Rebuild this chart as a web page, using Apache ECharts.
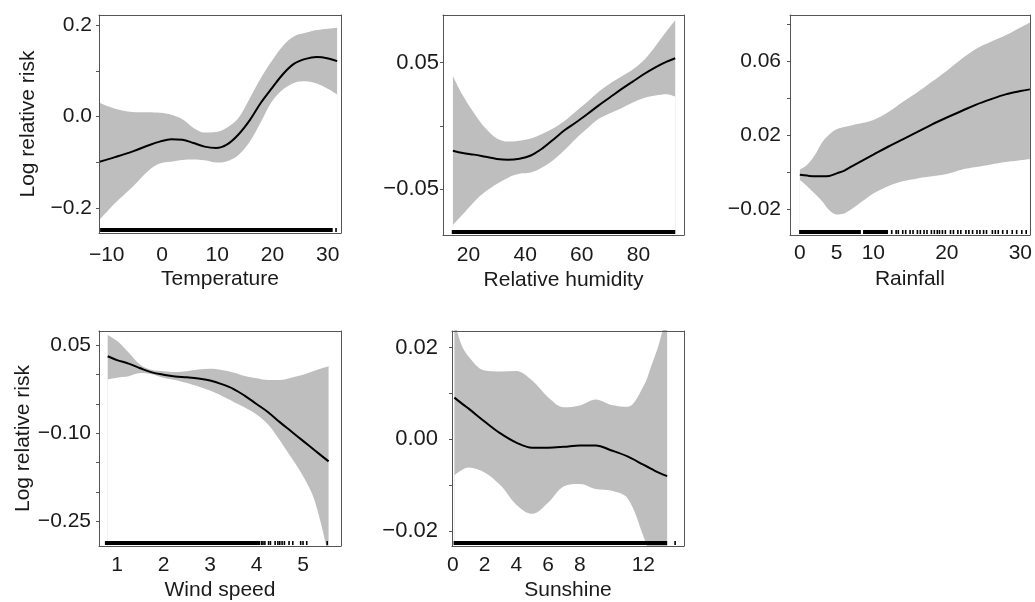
<!DOCTYPE html>
<html>
<head>
<meta charset="utf-8">
<script src="https://cdn.jsdelivr.net/npm/echarts@6/dist/echarts.min.js"></script>
<style>html,body{margin:0;padding:0;background:#fff}#c{width:1035px;height:602px}</style>
</head>
<body>
<div id="c"></div>
<script>
// ---------- Temperature ----------
const tempX     = [-11.3, -8.5, -5.4, -2.4, -0.4, 1.7, 3.7, 5.7, 7.7, 9.8, 11.8, 13.8, 15.9, 17.9, 19.9, 22.0, 24.0, 26.0, 28.0, 30.1, 31.7];
const tempFit   = [-0.099, -0.089, -0.077, -0.063, -0.055, -0.050, -0.051, -0.058, -0.066, -0.069, -0.061, -0.040, -0.008, 0.030, 0.062, 0.094, 0.116, 0.126, 0.130, 0.127, 0.121];
const tempUpper = [0.030, 0.017, 0.010, 0.009, 0.008, 0.004, -0.006, -0.025, -0.035, -0.034, -0.024, -0.004, 0.040, 0.084, 0.122, 0.156, 0.176, 0.183, 0.189, 0.192, 0.194];
const tempLower = [-0.226, -0.190, -0.155, -0.118, -0.103, -0.099, -0.095, -0.094, -0.096, -0.101, -0.098, -0.085, -0.055, -0.012, 0.033, 0.060, 0.074, 0.077, 0.072, 0.060, 0.048];
const tempRugRanges = [[-11.2, 30.9]];
const tempRugTicks  = [31.5];
const tempXLabels = [-10, 0, 10, 20, 30];
const tempYTicks  = [-0.2, -0.1, 0, 0.1, 0.2];
const tempYLabels = [-0.2, 0, 0.2];

// ---------- Relative humidity ----------
const humX     = [14.5, 18, 22, 26, 30, 34, 38, 42, 46, 50, 54, 58, 62, 66, 70, 74, 78, 82, 86, 90, 93];
const humFit   = [-0.0197, -0.0215, -0.0228, -0.0245, -0.0262, -0.0268, -0.0260, -0.0235, -0.0180, -0.0108, -0.0033, 0.0028, 0.0094, 0.0162, 0.0226, 0.0290, 0.0350, 0.0410, 0.0463, 0.0508, 0.0535];
const humUpper = [0.0395, 0.0240, 0.0100, -0.0020, -0.0100, -0.0125, -0.0118, -0.0100, -0.0065, -0.0020, 0.0040, 0.0115, 0.0190, 0.0270, 0.0335, 0.0390, 0.0445, 0.0520, 0.0630, 0.0750, 0.0835];
const humLower = [-0.0785, -0.0700, -0.0600, -0.0520, -0.0460, -0.0410, -0.0380, -0.0370, -0.0330, -0.0270, -0.0190, -0.0100, -0.0020, 0.0055, 0.0100, 0.0140, 0.0185, 0.0220, 0.0240, 0.0250, 0.0231];
const humRugRanges = [[14.1, 93.0]];
const humRugTicks  = [];
const humXLabels = [20, 40, 60, 80];
const humYTicks  = [-0.05, 0, 0.05];
const humYLabels = [-0.05, 0.05];

// ---------- Rainfall ----------
const rainX     = [0, 1, 2, 3, 4, 5, 6, 7, 8, 10, 12, 14, 16, 18, 20, 22, 24, 26, 28, 30, 31.3];
const rainFit   = [-0.0013, -0.0018, -0.0022, -0.0022, -0.0020, -0.0006, 0.0008, 0.0030, 0.0052, 0.0095, 0.0138, 0.0178, 0.0218, 0.0259, 0.0296, 0.0331, 0.0366, 0.0395, 0.0421, 0.0439, 0.0448];
const rainUpper = [0.0014, 0.0040, 0.0090, 0.0160, 0.0204, 0.0232, 0.0245, 0.0253, 0.0262, 0.0283, 0.0325, 0.0380, 0.0432, 0.0490, 0.0549, 0.0612, 0.0668, 0.0706, 0.0740, 0.0782, 0.0810];
const rainLower = [-0.0040, -0.0075, -0.0115, -0.0155, -0.0205, -0.0228, -0.0223, -0.0200, -0.0172, -0.0115, -0.0075, -0.0049, -0.0033, -0.0022, -0.0009, 0.0014, 0.0028, 0.0042, 0.0055, 0.0065, 0.0072];
const rainRugRanges = [[-0.1, 8.3], [8.6, 12.0]];
const rainRugTicks  = [12.5, 13.1, 13.4, 14.0, 14.4, 15.0, 15.4, 16.0, 16.4, 16.9, 17.3, 17.9, 18.3, 18.7, 19.0, 19.4, 19.8, 20.5, 20.9, 21.5, 21.9, 22.6, 23.0, 23.5, 24.1, 24.5, 25.0, 25.4, 26.2, 26.6, 27.0, 27.6, 28.2, 28.9, 29.5, 30.2, 30.8];
const rainXLabels = [0, 5, 10, 20, 30];
const rainYTicks  = [-0.02, 0, 0.02, 0.04, 0.06, 0.08];
const rainYLabels = [-0.02, 0.02, 0.06];

// ---------- Wind speed ----------
const windX     = [0.8, 1.0, 1.25, 1.5, 1.75, 2.0, 2.25, 2.5, 2.75, 3.0, 3.25, 3.5, 3.75, 4.0, 4.25, 4.5, 4.75, 5.0, 5.25, 5.55];
const windFit   = [0.0315, 0.025, 0.019, 0.011, 0.004, 0.000, -0.003, -0.0045, -0.0065, -0.010, -0.016, -0.024, -0.036, -0.050, -0.064, -0.081, -0.097, -0.113, -0.129, -0.148];
const windUpper = [0.068, 0.058, 0.038, 0.017, 0.008, 0.006, 0.0048, 0.006, 0.009, 0.010, 0.008, 0.004, -0.002, -0.006, -0.009, -0.009, -0.005, 0.000, 0.007, 0.0146];
const windLower = [-0.0077, -0.005, -0.0025, 0.003, 0.001, -0.005, -0.009, -0.014, -0.020, -0.027, -0.036, -0.046, -0.056, -0.068, -0.085, -0.112, -0.142, -0.173, -0.215, -0.310];
const windRugRanges = [[0.74, 4.08]];
const windRugTicks  = [4.11, 4.14, 4.18, 4.26, 4.30, 4.40, 4.46, 4.50, 4.55, 4.60, 4.70, 4.78, 4.95, 5.00, 5.08, 5.52];
const windXLabels = [1, 2, 3, 4, 5];
const windYTicks  = [-0.25, -0.20, -0.15, -0.10, -0.05, 0, 0.05];
const windYLabels = [-0.25, -0.10, 0.05];

// ---------- Sunshine ----------
const sunX     = [0.1, 0.5, 1, 2, 3, 4, 5, 6, 7, 8, 9, 10, 11, 12, 12.5, 13, 13.5];
const sunFit   = [0.0091, 0.0080, 0.0067, 0.0039, 0.0013, -0.0007, -0.0018, -0.0018, -0.0016, -0.0013, -0.0013, -0.0024, -0.0037, -0.0055, -0.0064, -0.0073, -0.0080];
const sunUpper = [0.026, 0.021, 0.0180, 0.0150, 0.0148, 0.0149, 0.0128, 0.0092, 0.0070, 0.0074, 0.0087, 0.0075, 0.0071, 0.0115, 0.0160, 0.0210, 0.0280];
const sunLower = [-0.0078, -0.0068, -0.0061, -0.0072, -0.0100, -0.0142, -0.0162, -0.0138, -0.0102, -0.0097, -0.0108, -0.0112, -0.0128, -0.0210, -0.0260, -0.0310, -0.0360];
const sunRugRanges = [[0.05, 13.5]];
const sunRugTicks  = [14.0];
const sunXLabels = [0, 2, 4, 6, 8, 12];
const sunYTicks  = [-0.02, -0.01, 0, 0.01, 0.02];
const sunYLabels = [-0.02, 0, 0.02];

// ---------- Layout (not data) ----------
const panels = [
  {x: tempX, fit: tempFit, hi: tempUpper, lo: tempLower, rr: tempRugRanges, rt: tempRugTicks,
   xl: tempXLabels, yt: tempYTicks, yl: tempYLabels, dec: 1, name: 'Temperature', yName: 'Log relative risk',
   grid: {left: 99, top: 15, width: 242, height: 218}, xMin: -11.4, xMax: 32.4, yMin: -0.255, yMax: 0.222,
   xMargin: 12, nameGap: 36, yMargin: 7, yFont: 21},
  {x: humX, fit: humFit, hi: humUpper, lo: humLower, rr: humRugRanges, rt: humRugTicks,
   xl: humXLabels, yt: humYTicks, yl: humYLabels, dec: 2, name: 'Relative humidity', yName: '',
   grid: {left: 443, top: 15, width: 241, height: 220}, xMin: 11.0, xMax: 96.1, yMin: -0.0864, yMax: 0.0877,
   xMargin: 10, nameGap: 35, yMargin: 4, yFont: 22},
  {x: rainX, fit: rainFit, hi: rainUpper, lo: rainLower, rr: rainRugRanges, rt: rainRugTicks,
   xl: rainXLabels, yt: rainYTicks, yl: rainYLabels, dec: 2, name: 'Rainfall', yName: '',
   grid: {left: 790, top: 15, width: 243, height: 220}, xMin: -1.34, xMax: 31.3, yMin: -0.0339, yMax: 0.085,
   xMargin: 8, nameGap: 34, yMargin: 9, yFont: 21},
  {x: windX, fit: windFit, hi: windUpper, lo: windLower, rr: windRugRanges, rt: windRugTicks,
   xl: windXLabels, yt: windYTicks, yl: windYLabels, dec: 2, name: 'Wind speed', yName: 'Log relative risk',
   grid: {left: 99, top: 331, width: 242, height: 218}, xMin: 0.613, xMax: 5.817, yMin: -0.2926, yMax: 0.0747,
   xMargin: 9, nameGap: 34, yMargin: 8, yFont: 21},
  {x: sunX, fit: sunFit, hi: sunUpper, lo: sunLower, rr: sunRugRanges, rt: sunRugTicks,
   xl: sunXLabels, yt: sunYTicks, yl: sunYLabels, dec: 2, name: 'Sunshine', yName: '',
   grid: {left: 452, top: 331, width: 232, height: 217}, xMin: -0.05, xMax: 14.56, yMin: -0.0232, yMax: 0.0236,
   xMargin: 9, nameGap: 34, yMargin: 14, yFont: 22}
];

const FONT = 'Liberation Sans, Arial, Helvetica, sans-serif';
const TXT = '#1a1a1a';
const FRAME = {show: true, onZero: false, lineStyle: {color: '#555', width: 1}};
const fmt = (v, d) => (v < -1e-12 ? '\u2212' : '') + Math.abs(v).toFixed(d);

function rugRender(params, api) {
  const s = api.value(0), e = api.value(1);
  const p0 = api.coord([s, api.value(2)]);
  const p1 = api.coord([e, api.value(2)]);
  const cs = params.coordSys;
  const bottom = cs.y + cs.height;
  let x = p0[0], w = p1[0] - p0[0];
  if (w < 1.6) { x = p0[0] - 0.8; w = 1.6; }
  return {type: 'rect', shape: {x: x, y: bottom - 5, width: w, height: 4}, style: {fill: '#000'}};
}

const N = panels.length;
const grid = [], xAxis = [], yAxis = [], series = [];
panels.forEach((p, i) => {
  grid.push(Object.assign({show: false}, p.grid));
  xAxis[i] = {
    type: 'value', gridIndex: i, min: p.xMin, max: p.xMax, position: 'bottom', z: 10,
    name: p.name, nameLocation: 'middle', nameGap: p.nameGap,
    nameTextStyle: {fontFamily: FONT, fontSize: 21, color: TXT},
    axisLine: FRAME, axisTick: {show: false}, splitLine: {show: false},
    axisLabel: {customValues: p.xl, fontFamily: FONT, fontSize: 21, color: TXT, margin: p.xMargin,
      formatter: v => fmt(v, 0)}
  };
  xAxis[N + i] = {
    type: 'value', gridIndex: i, min: p.xMin, max: p.xMax, position: 'top', z: 10,
    axisLine: FRAME, axisTick: {show: false}, axisLabel: {show: false}, splitLine: {show: false}
  };
  yAxis[i] = {
    type: 'value', gridIndex: i, min: p.yMin, max: p.yMax, position: 'left', z: 10,
    name: p.yName, nameLocation: 'middle', nameRotate: 90, nameGap: 60,
    nameTextStyle: {fontFamily: FONT, fontSize: 21, color: TXT},
    axisLine: FRAME, splitLine: {show: false},
    axisTick: {show: true, customValues: p.yt, length: 3, inside: false, lineStyle: {color: '#555'}},
    axisLabel: {customValues: p.yl, fontFamily: FONT, fontSize: p.yFont, color: TXT, margin: p.yMargin,
      formatter: v => fmt(v, p.dec)}
  };
  yAxis[N + i] = {
    type: 'value', gridIndex: i, min: p.yMin, max: p.yMax, position: 'right', z: 10,
    axisLine: FRAME, axisTick: {show: false}, axisLabel: {show: false}, splitLine: {show: false}
  };
  const hiData = p.x.map((x, k) => [x, p.hi[k]]);
  const loData = p.x.map((x, k) => [x, p.lo[k]]);
  const fitData = p.x.map((x, k) => [x, p.fit[k]]);
  // confidence band: grey fill under upper bound, white fill under lower bound
  series.push({
    type: 'line', xAxisIndex: i, yAxisIndex: i, data: hiData, smooth: 0.35,
    showSymbol: false, symbol: 'none', lineStyle: {opacity: 0},
    areaStyle: {color: '#bebebe', opacity: 1, origin: 'start'}, silent: true, z: 2
  });
  series.push({
    type: 'line', xAxisIndex: i, yAxisIndex: i, data: loData, smooth: 0.35,
    showSymbol: false, symbol: 'none', lineStyle: {opacity: 0},
    areaStyle: {color: '#ffffff', opacity: 1, origin: 'start'}, silent: true, z: 2
  });
  const rugData = p.rr.map(r => [r[0], r[1], p.yMin]).concat(p.rt.map(t => [t, t, p.yMin]));
  series.push({
    type: 'custom', xAxisIndex: i, yAxisIndex: i, data: rugData, renderItem: rugRender,
    encode: {x: [0, 1], y: 2}, clip: true, silent: true, z: 3
  });
  series.push({
    type: 'line', xAxisIndex: i, yAxisIndex: i, data: fitData, smooth: 0.35,
    showSymbol: false, symbol: 'none', lineStyle: {color: '#000', width: 2}, silent: true, z: 4
  });
});

const chart = echarts.init(document.getElementById('c'), null, {renderer: 'canvas'});
chart.setOption({backgroundColor: '#fff', animation: false, grid, xAxis, yAxis, series});
</script>
</body>
</html>
